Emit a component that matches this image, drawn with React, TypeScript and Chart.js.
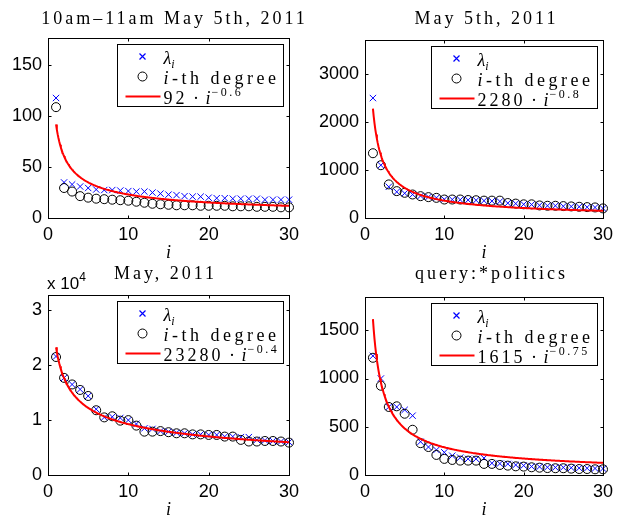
import React, { useEffect, useRef } from 'react';
import { Chart, registerables } from 'chart.js';
Chart.register(...registerables);

// ---------------- data ----------------
const rank = [1, 2, 3, 4, 5, 6, 7, 8, 9, 10, 11, 12, 13, 14, 15, 16, 17, 18, 19, 20, 21, 22, 23, 24, 25, 26, 27, 28, 29, 30];
const xTicks = [0, 10, 20, 30];

const titles = ['10am\u201311am May 5th, 2011', 'May 5th, 2011', 'May, 2011', 'query:*politics'];

const lambda1 = [118, 35, 33, 31, 29.5, 28, 27.5, 27.5, 27, 26.5, 26, 26, 25, 24, 23, 22.5, 21.5, 21, 21, 20, 19.5, 19.5, 19, 19, 19, 19, 18, 18, 18, 18];
const degree1 = [109, 29.5, 26, 21.5, 20, 19, 18.5, 18, 17.5, 17, 16, 15, 14, 13.5, 13, 12.5, 12.5, 12.5, 12, 12, 12, 12, 11.5, 11.5, 11.5, 11, 11, 11, 10.5, 10.5];

const lambda2 = [2500, 1100, 650, 545, 515, 490, 460, 440, 420, 390, 385, 380, 375, 370, 360, 352, 345, 310, 300, 285, 280, 265, 255, 255, 245, 240, 235, 225, 220, 200];
const degree2 = [1350, 1100, 700, 560, 525, 490, 455, 435, 420, 385, 385, 385, 375, 370, 362, 362, 362, 312, 300, 285, 285, 262, 255, 255, 248, 241, 234, 227, 220, 200];

const lambda3 = [21600, 17700, 16500, 15600, 14400, 12000, 10500, 10600, 10400, 10000, 9300, 8500, 8400, 8000, 7900, 7700, 7600, 7400, 7400, 7300, 7300, 7000, 7000, 6900, 6900, 6400, 6300, 6200, 6100, 6000];
const degree3 = [21500, 17700, 16500, 15500, 14400, 11800, 10500, 10700, 9900, 10000, 9000, 7900, 7900, 8000, 7800, 7600, 7600, 7400, 7400, 7300, 7300, 7000, 7000, 6400, 6100, 6100, 6200, 6200, 6100, 5900];

const lambda4 = [1235, 1000, 705, 705, 675, 615, 345, 290, 260, 235, 200, 180, 167, 167, 175, 122, 118, 115, 104, 98, 88, 85, 80, 78, 78, 75, 72, 70, 68, 66];
const degree4 = [1215, 925, 705, 712, 635, 469, 330, 290, 208, 167, 156, 149, 149, 149, 115, 115, 104, 97, 90, 87, 80, 76, 72, 70, 70, 66, 62, 62, 59, 59];

// power-law fits shown in the legends: a * i^b
const fitCoef = [92, 2280, 23280, 1615];
const fitExp = [-0.6, -0.8, -0.4, -0.75];
const fitCoefLabels = ['92', '2280', '23280', '1615'];
const fitExpLabels = ['\u22120.6', '\u22120.8', '\u22120.4', '\u22120.75'];

const yTicks1 = [0, 50, 100, 150];
const yTicks2 = [0, 1000, 2000, 3000];
const yTicks3 = [0, 10000, 20000, 30000];
const yTicks4 = [0, 500, 1000, 1500];
const yMaxes = [177, 3710, 32800, 1845];

const lambdas = [lambda1, lambda2, lambda3, lambda4];
const degrees = [degree1, degree2, degree3, degree4];
const yTicksAll = [yTicks1, yTicks2, yTicks3, yTicks4];

// ---------------- layout (positions/sizes) ----------------
const panels = [
  { left: 0, top: 0, w: 310, h: 260, padTop: 38, padRight: 21, yW: 48, xH: 42, titleX: 173, titleBase: 24, exp: false },
  { left: 310, top: 0, w: 309, h: 260, padTop: 40, padRight: 12, yW: 55, xH: 42, titleX: 175, titleBase: 24, exp: false },
  { left: 0, top: 260, w: 310, h: 260, padTop: 35, padRight: 21, yW: 48, xH: 45, titleX: 164, titleBase: 19, exp: true },
  { left: 310, top: 260, w: 309, h: 260, padTop: 37, padRight: 12, yW: 55, xH: 45, titleX: 180, titleBase: 19, exp: false },
];

const SERIF = '"Liberation Serif", "DejaVu Serif", serif';
const SANS = '"Liberation Sans", Arial, sans-serif';

type Run = { t: string; font: string; dy?: number; sp?: number };

function runsWidth(ctx: any, runs: Run[]) {
  let w = 0;
  for (const r of runs) {
    ctx.font = r.font;
    ctx.letterSpacing = (r.sp || 0) + 'px';
    w += ctx.measureText(r.t).width;
  }
  return w;
}

function drawRuns(ctx: any, x: number, y: number, runs: Run[]) {
  for (const r of runs) {
    ctx.font = r.font;
    ctx.letterSpacing = (r.sp || 0) + 'px';
    ctx.fillText(r.t, x, y + (r.dy || 0));
    x += ctx.measureText(r.t).width;
  }
  ctx.letterSpacing = '0px';
}

function makeDecor(idx: number) {
  const p = panels[idx];
  return {
    id: 'decor' + idx,
    afterDraw(chart: any) {
      const ctx = chart.ctx;
      const a = chart.chartArea;
      const xs = chart.scales.x;
      const ys = chart.scales.y;
      ctx.save();
      ctx.fillStyle = '#000';
      ctx.strokeStyle = '#000';
      ctx.lineWidth = 1;
      ctx.textAlign = 'left';
      ctx.textBaseline = 'alphabetic';
      const L = Math.round(a.left) + 0.5;
      const R = Math.round(a.right) + 0.5;
      const T = Math.round(a.top) + 0.5;
      const B = Math.round(a.bottom) + 0.5;
      // axes box
      ctx.strokeRect(L, T, R - L, B - T);
      // inward ticks on all sides
      const TL = 3;
      ctx.beginPath();
      for (const v of xTicks) {
        const px = Math.round(xs.getPixelForValue(v)) + 0.5;
        ctx.moveTo(px, B); ctx.lineTo(px, B - TL);
        ctx.moveTo(px, T); ctx.lineTo(px, T + TL);
      }
      for (const v of yTicksAll[idx]) {
        const py = Math.round(ys.getPixelForValue(v)) + 0.5;
        ctx.moveTo(L, py); ctx.lineTo(L + TL, py);
        ctx.moveTo(R, py); ctx.lineTo(R - TL, py);
      }
      ctx.stroke();

      // title
      const titleRuns: Run[] = [{ t: titles[idx], font: '18px ' + SERIF, sp: 3 }];
      const tw = runsWidth(ctx, titleRuns) - 3;
      drawRuns(ctx, p.titleX - tw / 2, p.titleBase, titleRuns);

      // x axis label
      const xlRuns: Run[] = [{ t: 'i', font: 'italic 18px ' + SERIF }];
      const xw = runsWidth(ctx, xlRuns);
      drawRuns(ctx, (a.left + a.right) / 2 - xw / 2, a.bottom + 39.5, xlRuns);

      // exponent label
      if (p.exp) {
        drawRuns(ctx, 47, 29, [
          { t: 'x 10', font: '17px ' + SANS },
          { t: '4', font: '12px ' + SANS, dy: -8 },
        ]);
      }

      // legend
      const LW = 166, LH = 62;
      const lx = Math.round(a.right - 6 - LW) + 0.5;
      const ly = Math.round(a.top + 6) + 0.5;
      ctx.fillStyle = '#fff';
      ctx.fillRect(lx, ly, LW, LH);
      ctx.strokeStyle = '#000';
      ctx.lineWidth = 1;
      ctx.strokeRect(lx, ly, LW, LH);
      const r1 = ly + 12, r2 = ly + 32, r3 = ly + 52;
      const mx = lx + 25;
      // cross marker
      ctx.strokeStyle = '#0000ff';
      ctx.lineWidth = 1.2;
      ctx.beginPath();
      ctx.moveTo(mx - 3, r1 - 3); ctx.lineTo(mx + 3, r1 + 3);
      ctx.moveTo(mx - 3, r1 + 3); ctx.lineTo(mx + 3, r1 - 3);
      ctx.stroke();
      // circle marker
      ctx.strokeStyle = '#000';
      ctx.lineWidth = 1;
      ctx.beginPath();
      ctx.arc(mx, r2, 4.5, 0, Math.PI * 2);
      ctx.stroke();
      // red line
      ctx.strokeStyle = '#ff0000';
      ctx.lineWidth = 2;
      ctx.beginPath();
      ctx.moveTo(lx + 8, r3); ctx.lineTo(lx + 43, r3);
      ctx.stroke();
      ctx.fillStyle = '#000';
      const tx = lx + 46;
      drawRuns(ctx, tx, r1 + 7, [
        { t: '\u03bb', font: 'italic 18px ' + SERIF },
        { t: 'i', font: 'italic 12px ' + SERIF, dy: 4 },
      ]);
      drawRuns(ctx, tx, r2 + 7, [
        { t: 'i', font: 'italic 18px ' + SERIF, sp: 3.5 },
        { t: '-th degree', font: '18px ' + SERIF, sp: 3.5 },
      ]);
      drawRuns(ctx, tx, r3 + 7, [
        { t: fitCoefLabels[idx], font: '18px ' + SERIF, sp: 3 },
        { t: ' \u00b7 ', font: '18px ' + SERIF, sp: 1 },
        { t: 'i', font: 'italic 18px ' + SERIF, sp: 1 },
        { t: fitExpLabels[idx], font: '12px ' + SERIF, dy: -8, sp: 2.5 },
      ]);
      ctx.restore();
    },
  };
}

function fitPoints(idx: number) {
  const pts: { x: number; y: number }[] = [];
  for (let k = 0; k <= 290; k++) {
    const x = 1 + k * 0.1;
    pts.push({ x, y: fitCoef[idx] * Math.pow(x, fitExp[idx]) });
  }
  return pts;
}

function Panel({ idx }: { idx: number }) {
  const ref = useRef<HTMLCanvasElement | null>(null);
  useEffect(() => {
    const p = panels[idx];
    const canvas = ref.current!;
    const tickFont = { family: SANS, size: 18 };
    const yt = yTicksAll[idx];
    const chart = new Chart(canvas, {
      type: 'scatter',
      data: {
        datasets: [
          {
            label: 'fit',
            type: 'line',
            data: fitPoints(idx),
            borderColor: '#ff0000',
            borderWidth: 2,
            pointRadius: 0,
            fill: false,
            tension: 0,
            order: 0,
          } as any,
          {
            label: 'degree',
            data: rank.map((r, i) => ({ x: r, y: degrees[idx][i] })),
            pointStyle: 'circle',
            pointRadius: 4.5,
            borderColor: '#000000',
            backgroundColor: 'rgba(0,0,0,0)',
            borderWidth: 1,
            clip: false,
            order: 1,
          } as any,
          {
            label: 'lambda',
            data: rank.map((r, i) => ({ x: r, y: lambdas[idx][i] })),
            pointStyle: 'crossRot',
            pointRadius: 4.5,
            borderColor: '#0000ff',
            backgroundColor: '#0000ff',
            borderWidth: 1,
            clip: false,
            order: 2,
          } as any,
        ],
      },
      options: {
        animation: false,
        responsive: false,
        events: [],
        layout: { padding: { top: p.padTop, right: p.padRight, left: 0, bottom: 0 } },
        plugins: { legend: { display: false }, tooltip: { enabled: false }, title: { display: false } },
        scales: {
          x: {
            type: 'linear',
            min: 0,
            max: 30,
            afterBuildTicks: (s: any) => { s.ticks = xTicks.map((v) => ({ value: v })); },
            afterFit: (s: any) => { s.height = p.xH; },
            ticks: { font: tickFont, color: '#000', padding: 6, maxRotation: 0, autoSkip: false, callback: (v: any) => String(v) },
            grid: { display: false, drawTicks: false },
            border: { display: false },
          },
          y: {
            type: 'linear',
            min: 0,
            max: yMaxes[idx],
            afterBuildTicks: (s: any) => { s.ticks = yt.map((v) => ({ value: v })); },
            afterFit: (s: any) => { s.width = p.yW; },
            ticks: {
              font: tickFont,
              color: '#000',
              padding: 6,
              autoSkip: false,
              callback: (v: any) => (idx === 2 ? String(Number(v) / 10000) : String(v)),
            },
            grid: { display: false, drawTicks: false },
            border: { display: false },
          },
        },
      } as any,
      plugins: [makeDecor(idx)],
    });
    return () => chart.destroy();
  }, [idx]);
  const p = panels[idx];
  return (
    <canvas
      ref={ref}
      width={p.w}
      height={p.h}
      style={{ position: 'absolute', left: p.left, top: p.top, width: p.w, height: p.h }}
    />
  );
}

export default function App() {
  return (
    <div style={{ position: 'absolute', left: 0, top: 0, width: 619, height: 520, background: '#fff' }}>
      <Panel idx={0} />
      <Panel idx={1} />
      <Panel idx={2} />
      <Panel idx={3} />
    </div>
  );
}
